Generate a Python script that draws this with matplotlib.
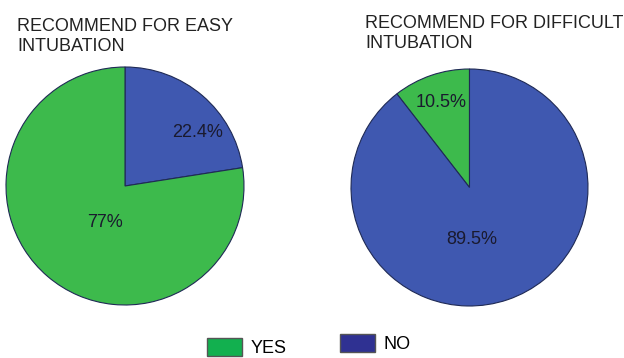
import numpy as np
import matplotlib.pyplot as plt
from matplotlib.patches import Patch

plt.rcParams['font.family'] = ['Liberation Sans', 'DejaVu Sans']

labels = ['YES', 'NO']
easy = [77.0, 22.4]
difficult = [10.5, 89.5]
easy_txt = ['77%', '22.4%']
diff_txt = ['10.5%', '89.5%']

green = '#3dba4c'
blue = '#3f58b0'
edge = '#1f2a55'
fs = 13

fig = plt.figure(figsize=(6.24, 3.58), dpi=100)

# easy intubation: NO wedge clockwise from top
ax1 = fig.add_axes([6/624, 53/358, 238/624, 238/358])
ax1.pie([easy[1], easy[0]], colors=[blue, green], startangle=90,
        counterclock=False,
        wedgeprops=dict(edgecolor=edge, linewidth=0.8))
ax1.set_xlim(-1, 1); ax1.set_ylim(-1, 1); ax1.set_aspect('equal')
ax1.text(0.61, 0.45, easy_txt[1], ha='center', va='center', fontsize=fs, color='#1a1a2e')
ax1.text(-0.17, -0.31, easy_txt[0], ha='center', va='center', fontsize=fs, color='#1a1a2e')

# difficult intubation: YES wedge counterclockwise from top
ax2 = fig.add_axes([351/624, 52/358, 237/624, 237/358])
ax2.pie(difficult, colors=[green, blue], startangle=90,
        counterclock=True,
        wedgeprops=dict(edgecolor=edge, linewidth=0.8))
ax2.set_xlim(-1, 1); ax2.set_ylim(-1, 1); ax2.set_aspect('equal')
ax2.text(-0.24, 0.72, diff_txt[0], ha='center', va='center', fontsize=fs, color='#1a1a2e')
ax2.text(0.02, -0.44, diff_txt[1], ha='center', va='center', fontsize=fs, color='#1a1a2e')

fig.text(17/624, 1 - 18/358, 'RECOMMEND FOR EASY\nINTUBATION', ha='left', va='top',
         fontsize=fs, color='#222222', linespacing=1.2)
fig.text(365/624, 1 - 15/358, 'RECOMMEND FOR DIFFICULT\nINTUBATION', ha='left', va='top',
         fontsize=fs, color='#222222', linespacing=1.2)

leg_kw = dict(loc='lower left', frameon=False, fontsize=fs, handlelength=1.95,
              handleheight=1.1, handletextpad=0.45, borderpad=0, borderaxespad=0)
fig.legend(handles=[Patch(facecolor='#12b04f', edgecolor='#555555', label=labels[0])],
           bbox_to_anchor=(207/624, 1/358), **leg_kw)
fig.legend(handles=[Patch(facecolor='#2f3192', edgecolor='#555555', label=labels[1])],
           bbox_to_anchor=(340/624, 5/358), **leg_kw)

fig.savefig('out.png', dpi=100)
